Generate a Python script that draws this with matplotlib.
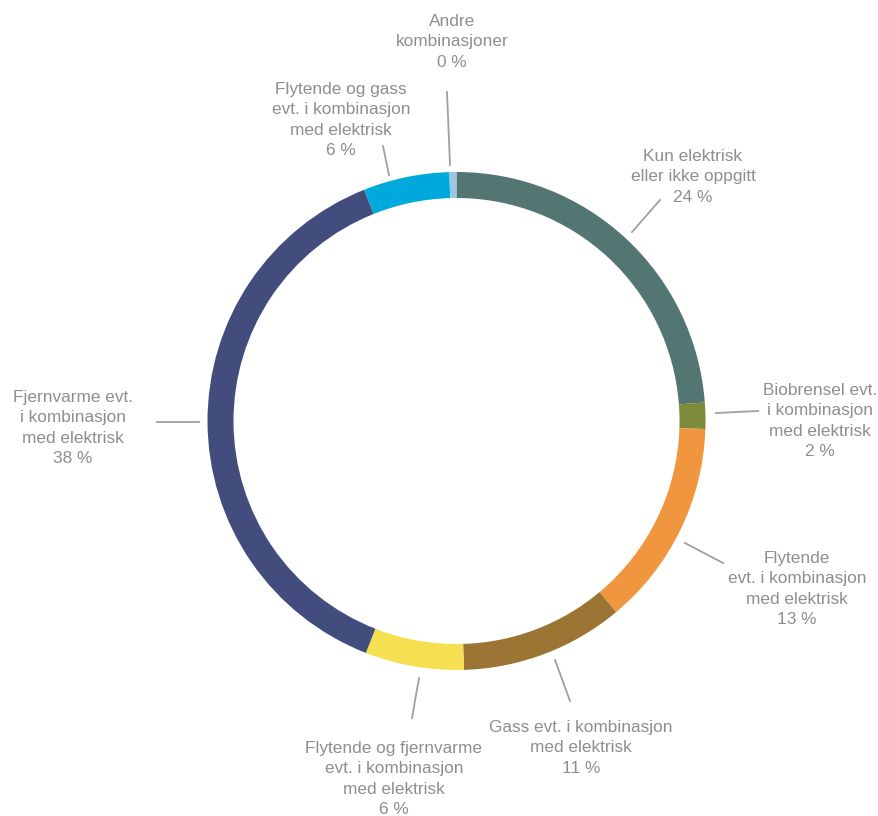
import matplotlib
matplotlib.use("Agg")
import matplotlib.pyplot as plt

# Heating solutions, share of buildings (%), clockwise from 12 o'clock
categories = [
    "Kun elektrisk\neller ikke oppgitt",
    "Biobrensel evt.\ni kombinasjon\nmed elektrisk",
    "Flytende\nevt. i kombinasjon\nmed elektrisk",
    "Gass evt. i kombinasjon\nmed elektrisk",
    "Flytende og fjernvarme\nevt. i kombinasjon\nmed elektrisk",
    "Fjernvarme evt.\ni kombinasjon\nmed elektrisk",
    "Flytende og gass\nevt. i kombinasjon\nmed elektrisk",
    "Andre\nkombinasjoner",
]
shares = [23.8, 1.7, 13.4, 10.6, 6.4, 38.0, 5.6, 0.45]
colors = ["#537672", "#7B8B3A", "#F0963F", "#9C7535", "#F5E052",
          "#424D7E", "#00A9DB", "#9DC7E0"]

W, H = 879, 816
fig = plt.figure(figsize=(W / 100, H / 100), dpi=100)
ax = fig.add_axes([0, 0, 1, 1])

cx, cy, R = 456.5, H - 421, 249
ax.pie(shares, colors=colors, startangle=90, counterclock=False,
       center=(cx, cy), radius=R, frame=True,
       wedgeprops=dict(width=26, linewidth=0))
ax.set_xlim(0, W)
ax.set_ylim(0, H)
ax.set_aspect("equal")
ax.axis("off")

# label anchor (x, top y in pixels) and leader line endpoints in pixels
label_pos = [
    (693, 149), (820, 383), (797, 551), (581, 720),
    (394, 741), (73, 390), (341, 82), (452, 14),
]
leaders = [
    ((660, 200), (632, 232)),
    ((758, 411), (716, 413)),
    ((723, 563), (685, 543)),
    ((570, 701), (555, 660)),
    ((412, 718), (419, 678)),
    ((157, 422), (199, 422)),
    ((383, 146), (389, 175)),
    ((447, 92), (450, 165)),
]

txt_color = "#8E8E8E"
for name, val, (lx, ly), (p0, p1) in zip(categories, shares, label_pos, leaders):
    ax.text(lx, H - ly, f"{name}\n{round(val)} %", ha="center", va="top",
            fontsize=12.4, color=txt_color, family="Liberation Sans",
            linespacing=1.45)
    ax.plot([p0[0], p1[0]], [H - p0[1], H - p1[1]], color="#A0A0A0", lw=1.3)

fig.savefig("out.png", dpi=100)
